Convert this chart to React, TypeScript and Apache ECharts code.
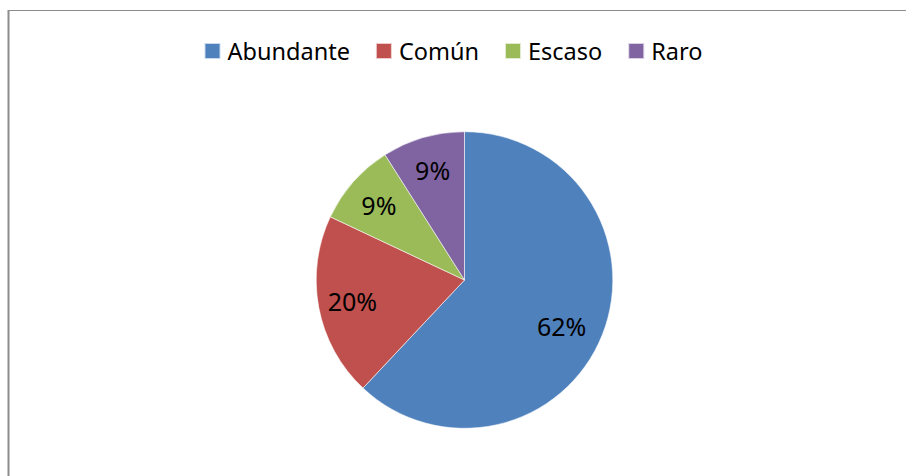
import React, { useEffect, useRef } from "react";
import * as echarts from "echarts";

const categories = ["Abundante", "Común", "Escaso", "Raro"];
const values = [62, 20, 9, 9];
const colors = ["#4F81BD", "#C0504D", "#9BBB59", "#8064A2"];

export default function App() {
  const ref = useRef<HTMLDivElement>(null);
  useEffect(() => {
    if (!ref.current) return;
    const chart = echarts.init(ref.current, null, { renderer: "svg" });
    const data = categories.map((name, i) => ({ name, value: values[i] }));
    chart.setOption({
      animation: false,
      color: colors,
      textStyle: { fontFamily: "Noto Sans" },
      legend: {
        top: 34,
        left: "center",
        icon: "rect",
        itemWidth: 16,
        itemHeight: 16,
        itemGap: 25,
        textStyle: { fontSize: 23.5, color: "#000", fontFamily: "Noto Sans", padding: [0, 0, 0, 2] },
        data: categories,
      },
      graphic: [
        { type: "line", shape: { x1: 8.5, y1: 10, x2: 8.5, y2: 476 }, style: { stroke: "#8c8c8c", lineWidth: 2 } },
        { type: "line", shape: { x1: 8, y1: 10.5, x2: 906, y2: 10.5 }, style: { stroke: "#8c8c8c", lineWidth: 1 } },
      ],
      series: [
        {
          type: "pie",
          center: [464.5, 280],
          radius: [0, 148.3],
          startAngle: 90,
          clockwise: true,
          percentPrecision: 0,
          label: { show: false },
          labelLine: { show: false },
          itemStyle: { borderColor: "rgba(255,255,255,0.7)", borderWidth: 0.8 },
          silent: true,
          data,
        },
        {
          type: "pie",
          center: [464.5, 280],
          radius: [74, 148.3],
          startAngle: 90,
          clockwise: true,
          percentPrecision: 0,
          legendHoverLink: false,
          itemStyle: { color: "rgba(0,0,0,0)" },
          label: {
            show: true,
            position: "inside",
            formatter: "{d}%",
            fontSize: 25,
            color: "#000",
            fontFamily: "Noto Sans",
          },
          labelLine: { show: false },
          silent: true,
          data: data.map((d, i) =>
            i === 0 ? { ...d, label: { offset: [-9, 4] } } : { ...d }
          ),
        },
      ],
    });
    return () => chart.dispose();
  }, []);
  return (
    <div
      ref={ref}
      style={{ position: "fixed", left: 0, top: 0, width: 906, height: 476, background: "#fff" }}
    />
  );
}
